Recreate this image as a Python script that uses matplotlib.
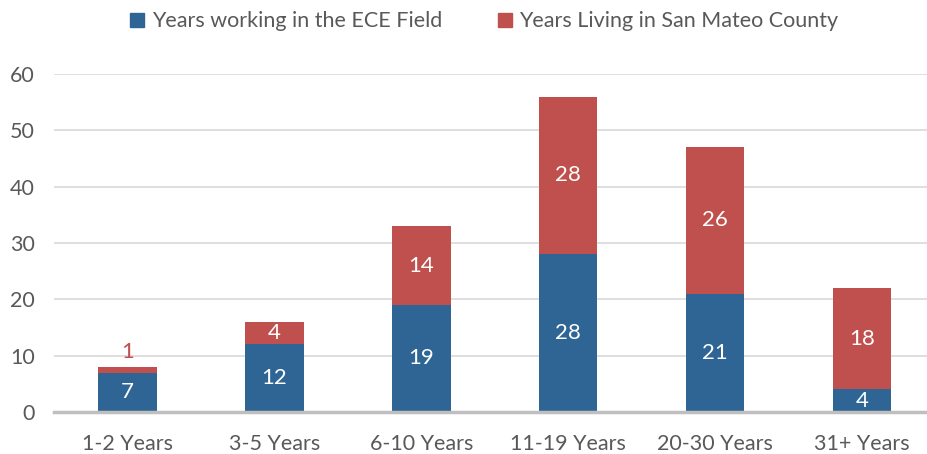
import matplotlib
matplotlib.use("Agg")
import matplotlib.pyplot as plt
from matplotlib.patches import Patch

# data
kategorier = ["1-2 Years", "3-5 Years", "6-10 Years", "11-19 Years", "20-30 Years", "31+ Years"]
ece_felt = [7, 12, 19, 28, 21, 4]
san_mateo = [1, 4, 14, 28, 26, 18]

blaa = "#2E6594"
rod = "#C0504D"
graa = "#595959"

plt.rcParams["font.family"] = ["Lato", "DejaVu Sans"]

fig = plt.figure(figsize=(9.28, 4.54), dpi=100)
ax = fig.add_axes([54 / 928, 42 / 454, 1 - 54 / 928, 338 / 454])

x = list(range(len(kategorier)))
bredde = 0.4
ax.bar(x, ece_felt, bredde, color=blaa, zorder=3)
ax.bar(x, san_mateo, bredde, bottom=ece_felt, color=rod, zorder=3)

# labels on the segments
for i in x:
    ax.text(i, ece_felt[i] / 2, str(ece_felt[i]), ha="center", va="center",
            color="white", fontsize=16)
    if san_mateo[i] < 3:
        ax.text(i, ece_felt[i] + san_mateo[i] + 0.9, str(san_mateo[i]), ha="center",
                va="bottom", color=rod, fontsize=16)
    else:
        ax.text(i, ece_felt[i] + san_mateo[i] / 2, str(san_mateo[i]), ha="center",
                va="center", color="white", fontsize=16)

ax.set_ylim(0, 60)
ax.set_xlim(-0.5, 5.45)
ax.set_yticks(range(0, 61, 10))
ax.set_xticks(x)
ax.set_xticklabels(kategorier)
ax.grid(axis="y", color="#D9D9D9", linewidth=1.2, zorder=0)
ax.tick_params(axis="both", length=0, labelsize=15.5, colors=graa)
ax.tick_params(axis="x", pad=16)
ax.tick_params(axis="y", pad=14)
for side in ["top", "right", "left"]:
    ax.spines[side].set_visible(False)
ax.spines["bottom"].set_color("#BFBFBF")
ax.spines["bottom"].set_linewidth(2.5)
ax.spines["bottom"].set_zorder(4)

handles = [Patch(color=blaa, label="Years working in the ECE Field"),
           Patch(color=rod, label="Years Living in San Mateo County")]
leg = fig.legend(handles=handles, loc="center", bbox_to_anchor=(0.522, 0.953), ncol=2,
                 frameon=False, fontsize=15.5, handlelength=0.65, handleheight=0.65,
                 handletextpad=0.35, columnspacing=2.6)
for t in leg.get_texts():
    t.set_color(graa)

fig.savefig("out.png", dpi=100)
